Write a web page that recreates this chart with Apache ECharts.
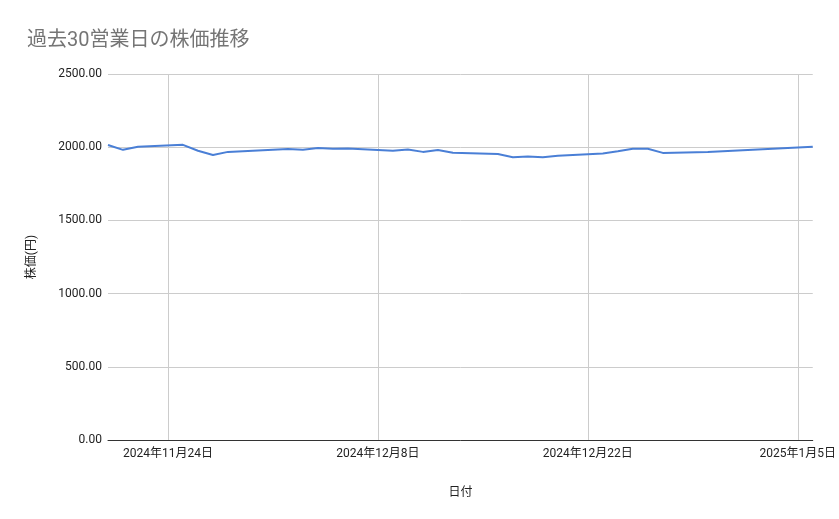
<!DOCTYPE html>
<html>
<head>
<meta charset="utf-8">
<script src="https://cdn.jsdelivr.net/npm/echarts@6/dist/echarts.min.js"></script>
<style>
  html, body { margin: 0; padding: 0; background: #fff; }
  #main { width: 839px; height: 519px; }
</style>
</head>
<body>
<div id="main"></div>
<script>
// 営業日と終値
var tradeDates = [
    '2024-11-20', '2024-11-21', '2024-11-22', '2024-11-25', '2024-11-26',
    '2024-11-27', '2024-11-28', '2024-11-29', '2024-12-02', '2024-12-03',
    '2024-12-04', '2024-12-05', '2024-12-06', '2024-12-09', '2024-12-10',
    '2024-12-11', '2024-12-12', '2024-12-13', '2024-12-16', '2024-12-17',
    '2024-12-18', '2024-12-19', '2024-12-20', '2024-12-23', '2024-12-24',
    '2024-12-25', '2024-12-26', '2024-12-27', '2024-12-30', '2025-01-06'
];
var prices = [
    2015, 1982, 2003, 2016, 1976,
    1947, 1968, 1973, 1988, 1982,
    1995, 1990, 1991, 1975, 1984,
    1968, 1981, 1962, 1953, 1932,
    1937, 1931, 1941, 1957, 1972,
    1989, 1990, 1961, 1967, 2003
];
// 目盛り（日曜日ごと）
var tickDates = ['2024-11-24', '2024-12-08', '2024-12-22', '2025-01-05'];
var yTicks = [0, 500, 1000, 1500, 2000, 2500];

var pad = function(n) { return n < 10 ? '0' + n : '' + n; };
var ymd = function(d) {
    return d.getUTCFullYear() + '-' + pad(d.getUTCMonth() + 1) + '-' + pad(d.getUTCDate());
};

// 暦日すべてをカテゴリにする（週末・休日は空き）
var days = [];
var d = new Date(tradeDates[0] + 'T00:00:00Z');
var last = new Date(tradeDates[tradeDates.length - 1] + 'T00:00:00Z');
while (d <= last) {
    days.push(ymd(d));
    d.setUTCDate(d.getUTCDate() + 1);
}
var priceByDay = {};
for (var i = 0; i < tradeDates.length; i++) {
    priceByDay[tradeDates[i]] = prices[i];
}
var seriesData = days.map(function(day) {
    return priceByDay.hasOwnProperty(day) ? priceByDay[day] : null;
});
var isTick = function(index) {
    return tickDates.indexOf(days[index]) >= 0;
};

var font = "Roboto, 'Noto Sans CJK JP', sans-serif";
var myChart = echarts.init(document.getElementById('main'));
var option = {
    animation: false,
    backgroundColor: '#ffffff',
    textStyle: { fontFamily: font },
    title: {
        text: '過去30営業日の株価推移',
        left: 22,
        top: 26,
        textStyle: { fontFamily: font, fontSize: 20, fontWeight: 'normal', color: '#757575' }
    },
    grid: { left: 108, right: 26, top: 74, bottom: 79 },
    xAxis: {
        type: 'category',
        data: days,
        boundaryGap: false,
        name: '日付',
        nameLocation: 'middle',
        nameGap: 47,
        nameTextStyle: { color: '#222', fontSize: 12, fontFamily: font },
        axisLine: { lineStyle: { color: '#333', width: 1 } },
        axisTick: { show: false },
        axisLabel: {
            interval: isTick,
            color: '#222',
            fontSize: 12,
            margin: 8,
            fontFamily: font,
            formatter: function(v) {
                var p = v.split('-');
                return p[0] + '年' + parseInt(p[1], 10) + '月' + parseInt(p[2], 10) + '日';
            }
        },
        splitLine: { show: true, interval: isTick, lineStyle: { color: '#cccccc', width: 1 } }
    },
    yAxis: {
        type: 'value',
        min: yTicks[0],
        max: yTicks[yTicks.length - 1],
        interval: yTicks[1] - yTicks[0],
        name: '株価(円)',
        nameLocation: 'middle',
        nameRotate: 90,
        nameGap: 70,
        nameTextStyle: { color: '#222', fontSize: 12, fontFamily: font },
        axisLine: { show: false },
        axisTick: { show: false },
        axisLabel: {
            color: '#222',
            fontSize: 12,
            margin: 6,
            fontFamily: font,
            formatter: function(v) { return v.toFixed(2); }
        },
        splitLine: { lineStyle: { color: '#cccccc', width: 1 } }
    },
    series: [{
        type: 'line',
        data: seriesData,
        connectNulls: true,
        showSymbol: false,
        symbol: 'none',
        lineStyle: { color: '#4A7FD6', width: 2 },
        itemStyle: { color: '#4A7FD6' }
    }]
};
myChart.setOption(option);
</script>
</body>
</html>
